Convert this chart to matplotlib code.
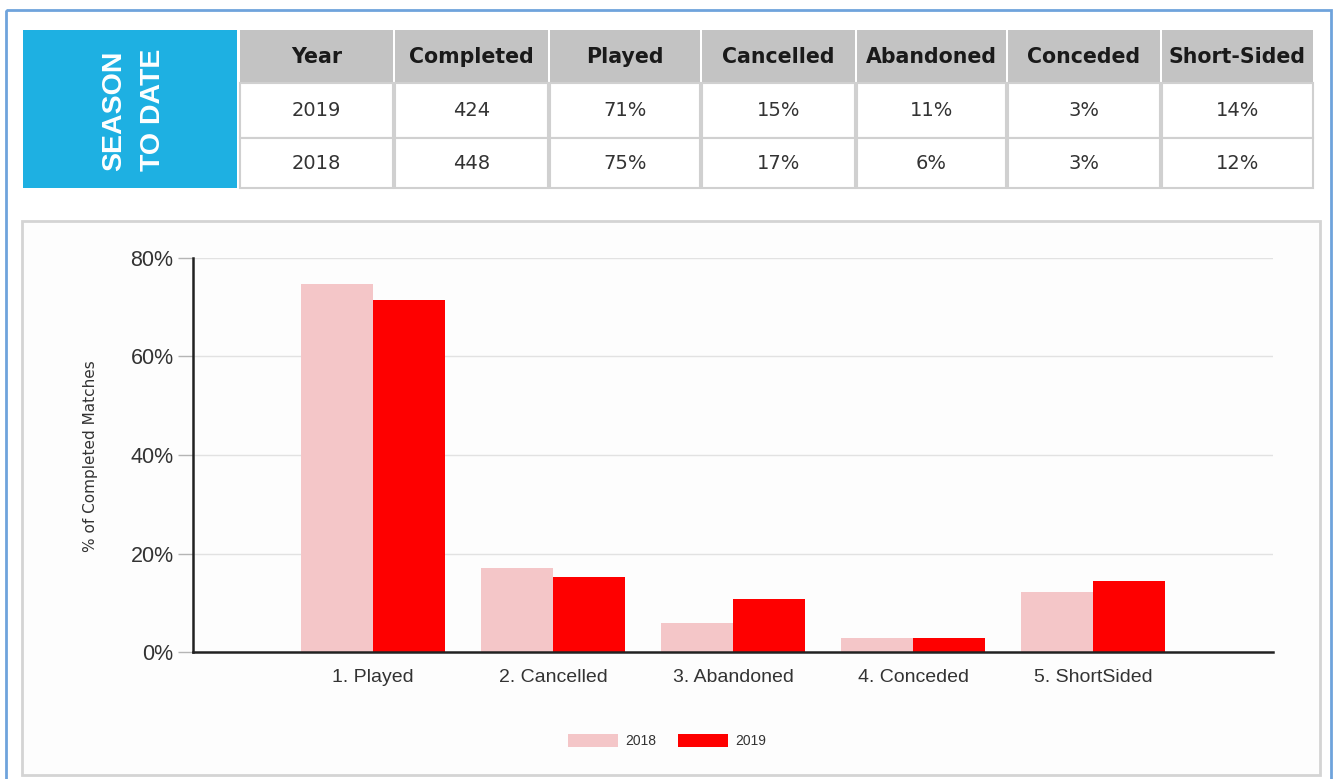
import matplotlib.pyplot as plt
from matplotlib.patches import Rectangle
import numpy as np

plt.rcParams['font.family'] = ['Liberation Sans', 'DejaVu Sans']

# table data
table_headers = ['Year', 'Completed', 'Played', 'Cancelled', 'Abandoned', 'Conceded', 'Short-Sided']
table_rows = [
    ['2019', '424', '71%', '15%', '11%', '3%', '14%'],
    ['2018', '448', '75%', '17%', '6%', '3%', '12%'],
]

# chart data
categories = ['1. Played', '2. Cancelled', '3. Abandoned', '4. Conceded', '5. ShortSided']
share_2018 = [74.8, 17.0, 5.8, 2.8, 12.2]
share_2019 = [71.4, 15.2, 10.7, 2.9, 14.4]
yticks = [0, 20, 40, 60, 80]

W, H = 1336, 779
fig = plt.figure(figsize=(W / 100, H / 100), dpi=100)
fig.patch.set_facecolor('white')

# background layer in pixel coordinates
bg = fig.add_axes([0, 0, 1, 1])
bg.set_xlim(0, W)
bg.set_ylim(H, 0)
bg.axis('off')

# outer blue frame
bg.add_patch(Rectangle((6, 10), 1325, 780, fill=False, edgecolor='#6fa3dc', lw=2))
# chart panel
bg.add_patch(Rectangle((22, 221), 1298, 554, facecolor='#fdfdfd', edgecolor='#d4d4d4', lw=2))

# season to date box
bg.add_patch(Rectangle((23, 30), 214, 158, facecolor='#1eb0e2', edgecolor='none'))
bg.text(114, 171, 'SEASON', rotation=90, color='white', fontsize=20.5, fontweight='bold',
        ha='center', va='bottom')
bg.text(153, 171, 'TO DATE', rotation=90, color='white', fontsize=20.5, fontweight='bold',
        ha='center', va='bottom')

# table grid
table_font = ['DejaVu Sans']
col_edges = [239, 394, 549, 701, 856, 1007, 1161, 1314]
row_edges = [30, 83, 138, 188]
for j, head in enumerate(table_headers):
    x0, x1 = col_edges[j], col_edges[j + 1]
    bg.add_patch(Rectangle((x0 + 1, row_edges[0]), x1 - x0 - 2, row_edges[1] - row_edges[0] - 1,
                           facecolor='#c3c3c3', edgecolor='none'))
    bg.text((x0 + x1) / 2, (row_edges[0] + row_edges[1]) / 2, head, fontsize=14.8,
            fontweight='bold', color='#1a1a1a', ha='center', va='center', family=table_font)
    for i, row in enumerate(table_rows):
        y0, y1 = row_edges[i + 1], row_edges[i + 2]
        bg.add_patch(Rectangle((x0 + 1, y0), x1 - x0 - 2, y1 - y0, facecolor='white',
                               edgecolor='#d0d0d0', lw=1.5))
        bg.text((x0 + x1) / 2, (y0 + y1) / 2, row[j], fontsize=14, color='#333333',
                ha='center', va='center', family=table_font)

# bar chart
ax = fig.add_axes([193 / W, 1 - 652 / H, (1273 - 193) / W, (652 - 258) / H])
ax.set_facecolor('none')
x = np.arange(len(categories))
bw = 0.4
ax.bar(x - bw / 2, share_2018, bw, color='#f4c6c8', label='2018', zorder=2)
ax.bar(x + bw / 2, share_2019, bw, color='#fe0000', label='2019', zorder=2)

ax.set_xlim(-1, len(categories))
ax.set_ylim(0, 80)
ax.set_yticks(yticks)
ax.set_yticklabels([f'{v}%' for v in yticks], fontsize=15.5, color='#333333')
ax.set_xticks(x)
ax.set_xticklabels(categories, fontsize=14, color='#333333')
ax.tick_params(axis='x', length=0, pad=12)
ax.tick_params(axis='y', length=11, width=1, color='#b5b5b5', pad=3)
ax.yaxis.grid(True, color='#e2e2e2', lw=1, zorder=0)
for s in ['top', 'right']:
    ax.spines[s].set_visible(False)
for s in ['left', 'bottom']:
    ax.spines[s].set_color('#222222')
    ax.spines[s].set_linewidth(1.8)
    ax.spines[s].set_zorder(3)

fig.text(91 / W, 1 - 456 / H, '% of Completed Matches', rotation=90, fontsize=11,
         color='#333333', ha='center', va='center', family=['DejaVu Sans'])

fig.legend(loc='center', bbox_to_anchor=(667 / W, 1 - 741 / H), ncol=2, frameon=False,
           fontsize=10, handlelength=3.6, handleheight=1.1, columnspacing=1.6,
           handletextpad=0.5, labelcolor='#333333')

fig.savefig('out.png', dpi=100)
